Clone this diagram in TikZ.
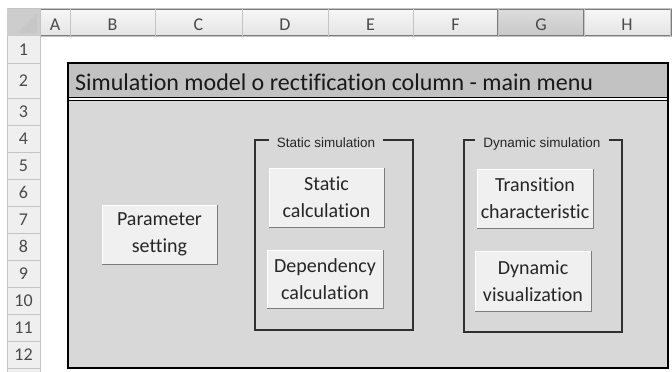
\documentclass[tikz,border=0pt]{standalone}
\usepackage{fontspec}
\setmainfont{Carlito}[Ligatures={NoCommon}]
\newfontfamily\lblfont{Liberation Sans}
\usetikzlibrary{calc}
\definecolor{hdrtop}{HTML}{F7F7F7}
\definecolor{hdrbot}{HTML}{E4E4E4}
\definecolor{hdrline}{HTML}{C4C4C4}
\definecolor{seltop}{HTML}{DCDCDC}
\definecolor{selbot}{HTML}{C8C8C8}
\definecolor{rowbg}{HTML}{EFEFEF}
\definecolor{hdrtext}{HTML}{4A4A4A}
\definecolor{titlebg}{HTML}{C2C2C2}
\definecolor{bodybg}{HTML}{D8D8D8}
\definecolor{btnfill}{HTML}{F0F0F0}
\definecolor{btnshadow}{HTML}{7C7C7C}
\definecolor{framecol}{HTML}{303030}
\begin{document}
\begin{tikzpicture}[x=1pt,y=-1pt,
  colhdr/.style={font=\fontsize{18}{20}\selectfont, text=hdrtext, anchor=base, inner sep=0pt},
  rowhdr/.style={font=\fontsize{18}{20}\selectfont, text=hdrtext, anchor=base, inner sep=0pt},
  btn/.style={fill=btnfill, draw=white, line width=0.6pt, inner sep=0pt, align=center,
    font=\fontsize{20}{27}\selectfont, text=black!85},
  shade/.style={draw=btnshadow, line width=1.6pt},
  grplbl/.style={font=\lblfont\fontsize{13.5}{15}\selectfont, text=black!85, inner xsep=8pt, inner ysep=0pt, anchor=base},
  grpframe/.style={draw=framecol, line width=1.3pt}
]
\useasboundingbox (0,0) rectangle (672,372);
\fill[white] (0,0) rectangle (672,372);
% header row
\shade[top color=hdrtop, bottom color=hdrbot] (40,9) rectangle (672,36);
\shade[top color=seltop, bottom color=selbot] (498,9) rectangle (584,36);
\draw[hdrline] (7,8.5) -- (672,8.5);
\draw[hdrline] (7,36) -- (672,36);
\foreach \x in {40,70,155,242,328,413,498,584,670}
  \draw[hdrline] (\x,9) -- (\x,36);
% corner
\fill[hdrbot!90!black] (7,9) rectangle (40,36);
\fill[black!22] (37,13) -- (37,33) -- (17,33) -- cycle;
% row header column
\fill[rowbg] (7,36) rectangle (40,372);
\draw[hdrline] (7,36) -- (7,372);
\draw[hdrline] (40,36) -- (40,372);
\foreach \y in {63,98,125,152,179,206,233,260,287,314,341,368}
  \draw[hdrline] (7,\y) -- (40,\y);
% column letters
\foreach \l/\x in {A/55,B/112.5,C/198.5,D/285,E/370.5,F/455.5,G/541,H/627}
  \node[colhdr] (col\l) at (\x,30) {\l};
% row numbers
\node[rowhdr] (row1) at (23.5,55.5) {1};
\node[rowhdr] (row2) at (23.5,86.5) {2};
\foreach \n [evaluate=\n as \yy using 98+27*(\n-3)+19] in {3,...,12}
  \node[rowhdr] (row\n) at (23.5,\yy) {\n};
% main frame
\fill[titlebg] (68,63) rectangle (668,97);
\fill[bodybg] (68,100) rectangle (668,368);
\draw[black, line width=1pt] (68,97) -- (668,97);
\draw[black, line width=1pt] (68,100.3) -- (668,100.3);
\draw[black, line width=2.4pt] (68,63) rectangle (668,368);
\node[anchor=base west, inner sep=0pt, font=\fontsize{24}{28}\selectfont, text=black!90] (title) at (75,90)
  {Simulation model o rectification column - main menu};
% group frames
\node[grplbl, fill=bodybg] (slab) at (326,147) {Static simulation};
\coordinate (stl) at (255,140);
\coordinate (sbr) at (413,330);
\draw[grpframe] (slab.west |- stl) -- (stl) |- (sbr) |- (slab.east |- stl);
\node[grplbl, fill=bodybg] (dlab) at (542,147) {Dynamic simulation};
\coordinate (dtl) at (464,140);
\coordinate (dbr) at (622,332);
\draw[grpframe] (dlab.west |- dtl) -- (dtl) |- (dbr) |- (dlab.east |- dtl);
% buttons
\node[btn, minimum width=115pt, minimum height=59pt] (pset) at (159.5,234.5) {Parameter\\setting};
\node[btn, minimum width=115pt, minimum height=59pt] (scalc) at (326.5,197.5) {Static\\calculation};
\node[btn, minimum width=116pt, minimum height=58pt] (dcalc) at (325,279) {Dependency\\calculation};
\node[btn, minimum width=116pt, minimum height=59pt] (trans) at (535,198.5) {Transition\\characteristic};
\node[btn, minimum width=116pt, minimum height=60pt] (dvis) at (533,281) {Dynamic\\visualization};
\foreach \b in {pset,scalc,dcalc,trans,dvis}
  \draw[shade] (\b.north east) -- (\b.south east) -- (\b.south west);
\end{tikzpicture}
\end{document}
